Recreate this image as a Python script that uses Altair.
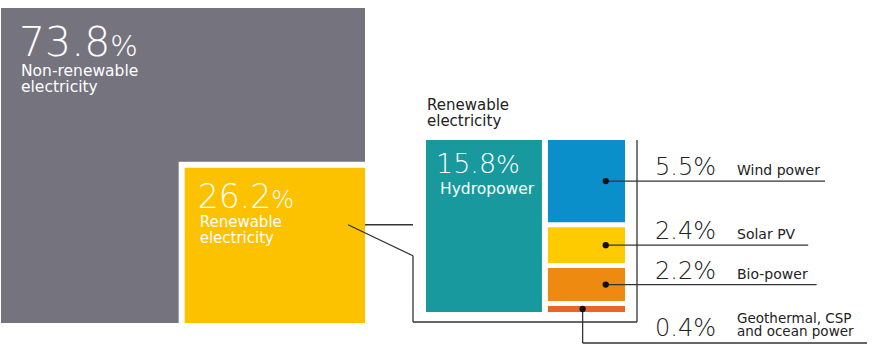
import math
import altair as alt
import pandas as pd

# ---------------- data ----------------
main_categories = ["Non-renewable electricity", "Renewable electricity"]
main_shares = [73.8, 26.2]
main_label_lines = [["Non-renewable", "electricity"], ["Renewable", "electricity"]]

renewable_sources = ["Hydropower", "Wind power", "Solar PV", "Bio-power",
                     "Geothermal, CSP and ocean power"]
renewable_shares = [15.8, 5.5, 2.4, 2.2, 0.4]
renewable_label_lines = [["Hydropower"], ["Wind power"], ["Solar PV"], ["Bio-power"],
                         ["Geothermal, CSP", "and ocean power"]]
breakdown_title = ["Renewable", "electricity"]

# ---------------- style ----------------
main_colors = ["#75737e", "#fcc200"]
renewable_colors = ["#17999e", "#0a8fcb", "#fdcb00", "#ee8a10", "#e8662a"]
FONT = "DejaVu Sans"
INK = "#222222"
LINE = "#333333"
WHITE = "#ffffff"

# ---------------- layout (canvas units = pixels) ----------------
CW, CH = 875, 350
BX, BY, BW, BH = 1, 8, 364, 315        # whole-electricity square
GAP = 6

DIG, DOT = 0.636, 0.318                # glyph advance estimates (em)


def num_width(s, size):
    return size * sum(DOT if c == "." else DIG for c in s)


rects, texts_num, texts_name, rules, dots = [], [], [], [], []

# main squares: renewable square area proportional to its share
total = sum(main_shares)
s = math.sqrt(main_shares[1] / total)
ow, oh = BW * s, BH * s
ox0, oy0 = BX + BW - ow, BY + BH - oh
yx0, yy0 = ox0 + GAP, oy0 + GAP
yx1, yy1 = BX + BW, BY + BH
rects.append(dict(x=BX, x2=BX + BW, y=BY, y2=BY + BH, color=main_colors[0]))
rects.append(dict(x=ox0, x2=yx1, y=oy0, y2=yy1, color=WHITE))
rects.append(dict(x=yx0, x2=yx1, y=yy0, y2=yy1, color=main_colors[1]))


def add_pct(value, x, y, size, pct_size, color):
    t = f"{value:.1f}"
    texts_num.append(dict(x=x, y=y, text=t, size=size, color=color))
    texts_num.append(dict(x=x + num_width(t, size), y=y,
                          text="%", size=pct_size, color=color))


def add_lines(lines, x, y, size, lh, color):
    for i, ln in enumerate(lines):
        texts_name.append(dict(x=x, y=y + i * lh, text=ln, size=size, color=color))


# labels in the main squares
add_pct(main_shares[0], BX + 18, BY + 48, 41, 29, WHITE)
add_lines(main_label_lines[0], BX + 20, BY + 68, 15.5, 16, WHITE)
add_pct(main_shares[1], yx0 + 13, yy0 + 40, 33, 24, WHITE)
add_lines(main_label_lines[1], yx0 + 15, yy0 + 59, 15, 16, WHITE)

# renewable breakdown (treemap: hydro column + stacked column)
TX, TY, TW, TH = 426, 140, 199, 172
HG, VG = 6, 5
rtotal = sum(renewable_shares)
hydro_w = (TW - HG) * renewable_shares[0] / rtotal
rects.append(dict(x=TX, x2=TX + hydro_w, y=TY, y2=TY + TH, color=renewable_colors[0]))
add_pct(renewable_shares[0], TX + 10, TY + 33, 27, 25, WHITE)
add_lines(renewable_label_lines[0], TX + 14, TY + 54, 15.5, 16, WHITE)
add_lines(breakdown_title, TX + 1, TY - 30, 15, 16, INK)

cx0, cx1 = TX + hydro_w + HG, TX + TW
rest = renewable_shares[1:]
avail = TH - VG * (len(rest) - 1)
PX, NX = 655, 737                      # right-hand label columns
GEO_Y = TY + TH + 31
cy = TY
for i, v in enumerate(rest):
    h = avail * v / sum(rest)
    idx = i + 1
    rects.append(dict(x=cx0, x2=cx1, y=cy, y2=cy + h, color=renewable_colors[idx]))
    lines = renewable_label_lines[idx]
    end_x = NX + 8.4 * max(len(l) for l in lines) + 4
    if h > 15:
        dx, dy = cx0 + 0.75 * (cx1 - cx0), cy + h / 2
        dots.append(dict(x=dx, y=dy))
        rules.append(dict(x=dx, y=dy, x2=end_x, y2=dy))
        add_pct(v, PX, dy - 6, 24, 24, INK)
        add_lines(lines, NX, dy - 6, 14, 13, INK)
    else:
        dx, dy = cx0 + 0.45 * (cx1 - cx0), cy + h / 2
        dots.append(dict(x=dx, y=dy))
        rules.append(dict(x=dx, y=dy, x2=dx, y2=GEO_Y))
        rules.append(dict(x=dx, y=GEO_Y, x2=end_x, y2=GEO_Y))
        add_pct(v, PX, GEO_Y - 7, 24, 24, INK)
        add_lines(lines, NX, GEO_Y - 20, 13.5, 13, INK)
    cy += h + VG

# call-out bracket from the renewable square to the breakdown
bl, br, bb = TX - 13, TX + TW + 12, TY + TH + 10
px, py = yx1 - 17, yy0 + 57
rules += [
    dict(x=yx1, y=py, x2=bl, y2=py),
    dict(x=px, y=py, x2=bl, y2=py + 31),
    dict(x=bl, y=py + 31, x2=bl, y2=bb),
    dict(x=bl, y=bb, x2=br, y2=bb),
    dict(x=br, y=bb, x2=br, y2=TY),
]

# ---------------- chart ----------------
xs = alt.Scale(domain=[0, CW], nice=False, zero=False)
ys = alt.Scale(domain=[0, CH], nice=False, zero=False, reverse=True)
X = alt.X("x:Q", scale=xs, axis=None)
Y = alt.Y("y:Q", scale=ys, axis=None)

rect_layer = alt.Chart(pd.DataFrame(rects)).mark_rect(strokeWidth=0).encode(
    x=X, x2="x2:Q", y=Y, y2="y2:Q", color=alt.Color("color:N", scale=None))
rule_layer = alt.Chart(pd.DataFrame(rules)).mark_rule(
    color=LINE, strokeWidth=1.3).encode(x=X, x2="x2:Q", y=Y, y2="y2:Q")
dot_layer = alt.Chart(pd.DataFrame(dots)).mark_circle(
    size=40, color="#111111", opacity=1).encode(x=X, y=Y)
num_layer = alt.Chart(pd.DataFrame(texts_num)).mark_text(
    align="left", baseline="alphabetic", font=FONT, fontWeight=200).encode(
    x=X, y=Y, text="text:N", size=alt.Size("size:Q", scale=None),
    color=alt.Color("color:N", scale=None))
name_layer = alt.Chart(pd.DataFrame(texts_name)).mark_text(
    align="left", baseline="alphabetic", font=FONT, fontWeight=400).encode(
    x=X, y=Y, text="text:N", size=alt.Size("size:Q", scale=None),
    color=alt.Color("color:N", scale=None))

chart = alt.layer(rect_layer, rule_layer, dot_layer, num_layer, name_layer).properties(
    width=CW, height=CH, autosize=alt.AutoSizeParams(type="none"), padding=0,
    background="white").configure_view(stroke=None)

chart.save("out.html", embed_options={"renderer": "svg", "actions": False})
